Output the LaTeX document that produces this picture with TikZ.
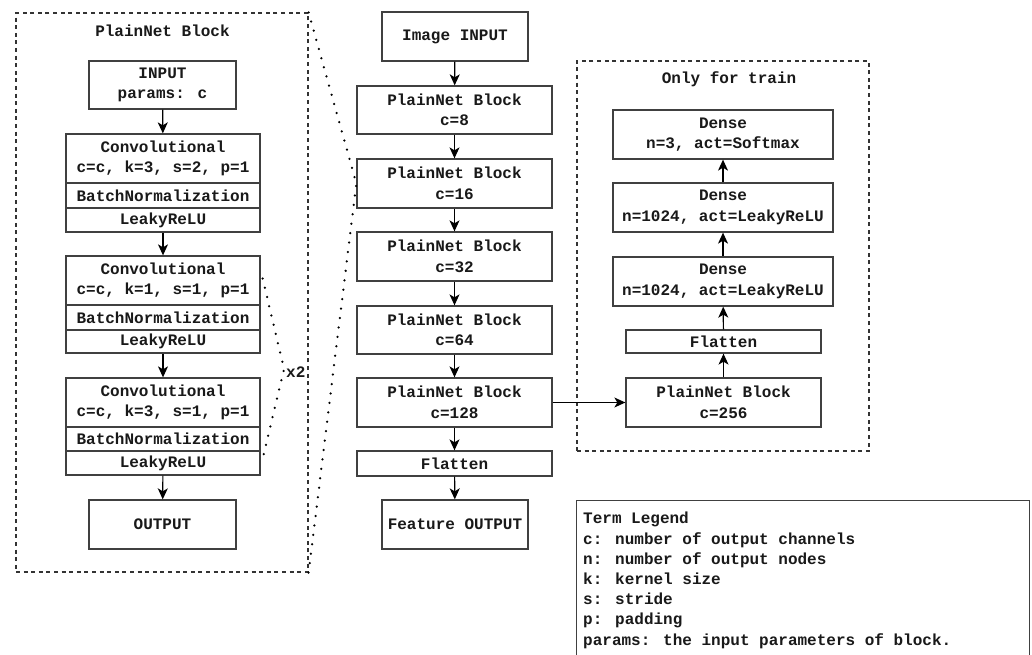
\documentclass[tikz,border=0pt]{standalone}
\usepackage{fontspec}
\setmainfont{Liberation Mono}
\usetikzlibrary{arrows.meta}
\begin{document}
\begin{tikzpicture}[x=1pt,y=-1pt,
  every node/.style={font=\bfseries\fontsize{16}{20.5}\selectfont, text=black!90},
  box/.style={draw=black!75, line width=1.3pt, fill=white, inner sep=0pt, align=center},
  dashbox/.style={draw=black!80, line width=1.2pt, dash pattern=on 4pt off 3.6pt, inner sep=0pt},
  dotline/.style={draw=black, line width=2.5pt, dash pattern=on 0pt off 9.5pt, line cap=round},
  arr/.style={draw=black, line width=1.2pt, -{Stealth[length=11pt,width=10pt,inset=3pt]}},
  lbl/.style={inner sep=0pt, align=center}
]
\useasboundingbox (0,0) rectangle (1032,655);
\clip (0,0) rectangle (1032,655);

% ---------- left: PlainNet Block detail ----------
\node[dashbox, minimum width=292pt, minimum height=559pt] (lbox) at (162,292.5) {};
\node[lbl] (ltitle) at (162.5,31) {PlainNet Block};
\node[box, minimum width=147pt, minimum height=48pt] (input) at (162.5,85) {INPUT\\params: c};

\node[box, minimum width=194pt, minimum height=49pt] (conv1) at (163,158.5) {Convolutional\\c=c, k=3, s=2, p=1};
\node[box, minimum width=194pt, minimum height=25pt] (bn1) at (163,195.5) {BatchNormalization};
\node[box, minimum width=194pt, minimum height=24pt] (lr1) at (163,220) {LeakyReLU};

\node[box, minimum width=194pt, minimum height=49pt] (conv2) at (163,280.5) {Convolutional\\c=c, k=1, s=1, p=1};
\node[box, minimum width=194pt, minimum height=25pt] (bn2) at (163,317.5) {BatchNormalization};
\node[box, minimum width=194pt, minimum height=23pt] (lr2) at (163,341.5) {LeakyReLU};

\node[box, minimum width=194pt, minimum height=49pt] (conv3) at (163,402.5) {Convolutional\\c=c, k=3, s=1, p=1};
\node[box, minimum width=194pt, minimum height=24pt] (bn3) at (163,439) {BatchNormalization};
\node[box, minimum width=194pt, minimum height=24pt] (lr3) at (163,463) {LeakyReLU};

\node[box, minimum width=147pt, minimum height=49pt] (output) at (162.5,524.5) {OUTPUT};

\draw[arr] (input) -- (conv1);
\draw[arr] (lr1) -- (conv2);
\draw[arr] (lr2) -- (conv3);
\draw[arr] (lr3) -- (output);

\coordinate (x2tip) at (284,369);
\draw[dotline] ([xshift=2pt,yshift=2pt]conv2.east) -- (x2tip) -- ([xshift=1pt]lr3.east);
\node[lbl, anchor=west] (x2) at (286,372) {x2};

% ---------- middle column ----------
\node[box, minimum width=146pt, minimum height=49pt] (img) at (455,36.5) {Image INPUT};
\node[box, minimum width=195pt, minimum height=48pt] (c8) at (454.5,110) {PlainNet Block\\c=8};
\node[box, minimum width=195pt, minimum height=49pt] (c16) at (454.5,183.5) {PlainNet Block\\c=16};
\node[box, minimum width=195pt, minimum height=49pt] (c32) at (454.5,256.5) {PlainNet Block\\c=32};
\node[box, minimum width=195pt, minimum height=48pt] (c64) at (454.5,330) {PlainNet Block\\c=64};
\node[box, minimum width=195pt, minimum height=49pt] (c128) at (454.5,402.5) {PlainNet Block\\c=128};
\node[box, minimum width=195pt, minimum height=25pt] (flat) at (454.5,463.5) {Flatten};
\node[box, minimum width=146pt, minimum height=49pt] (fout) at (455,524.5) {Feature OUTPUT};

\draw[arr] (img) -- (c8);
\draw[arr] (c8) -- (c16);
\draw[arr] (c16) -- (c32);
\draw[arr] (c32) -- (c64);
\draw[arr] (c64) -- (c128);
\draw[arr] (c128) -- (flat);
\draw[arr] (flat) -- (fout);

% zoom lines
\draw[dotline] (lbox.north east) -- (c16.west);
\draw[dotline] (lbox.south east) -- (c16.west);

% ---------- right: Only for train ----------
\node[dashbox, minimum width=292pt, minimum height=390pt] (rbox) at (723,256) {};
\node[lbl] (rtitle) at (729,79) {Only for train};
\node[box, minimum width=220pt, minimum height=49pt] (d3) at (723,134.5) {Dense\\n=3, act=Softmax};
\node[box, minimum width=220pt, minimum height=49pt] (d2) at (723,207.5) {Dense\\n=1024, act=LeakyReLU};
\node[box, minimum width=220pt, minimum height=49pt] (d1) at (723,281.5) {Dense\\n=1024, act=LeakyReLU};
\node[box, minimum width=195pt, minimum height=23pt] (rflat) at (723.5,341.5) {Flatten};
\node[box, minimum width=195pt, minimum height=49pt] (c256) at (723.5,402.5) {PlainNet Block\\c=256};

\draw[arr] (c128.east) -- (c256.west);
\draw[arr] (c256) -- (rflat);
\draw[arr] (rflat) -- (d1);
\draw[arr] (d1) -- (d2);
\draw[arr] (d2) -- (d3);

% ---------- legend ----------
\node[box, anchor=north west, minimum width=453pt, minimum height=180pt] (legend) at (576,500) {};
\node[lbl, anchor=north west, align=left, font=\bfseries\fontsize{16}{20.2}\selectfont] (legtext) at (583,512) {Term Legend\\c: number of output channels\\n: number of output nodes\\k: kernel size\\s: stride\\p: padding\\params: the input parameters of block.};
\end{tikzpicture}
\end{document}
